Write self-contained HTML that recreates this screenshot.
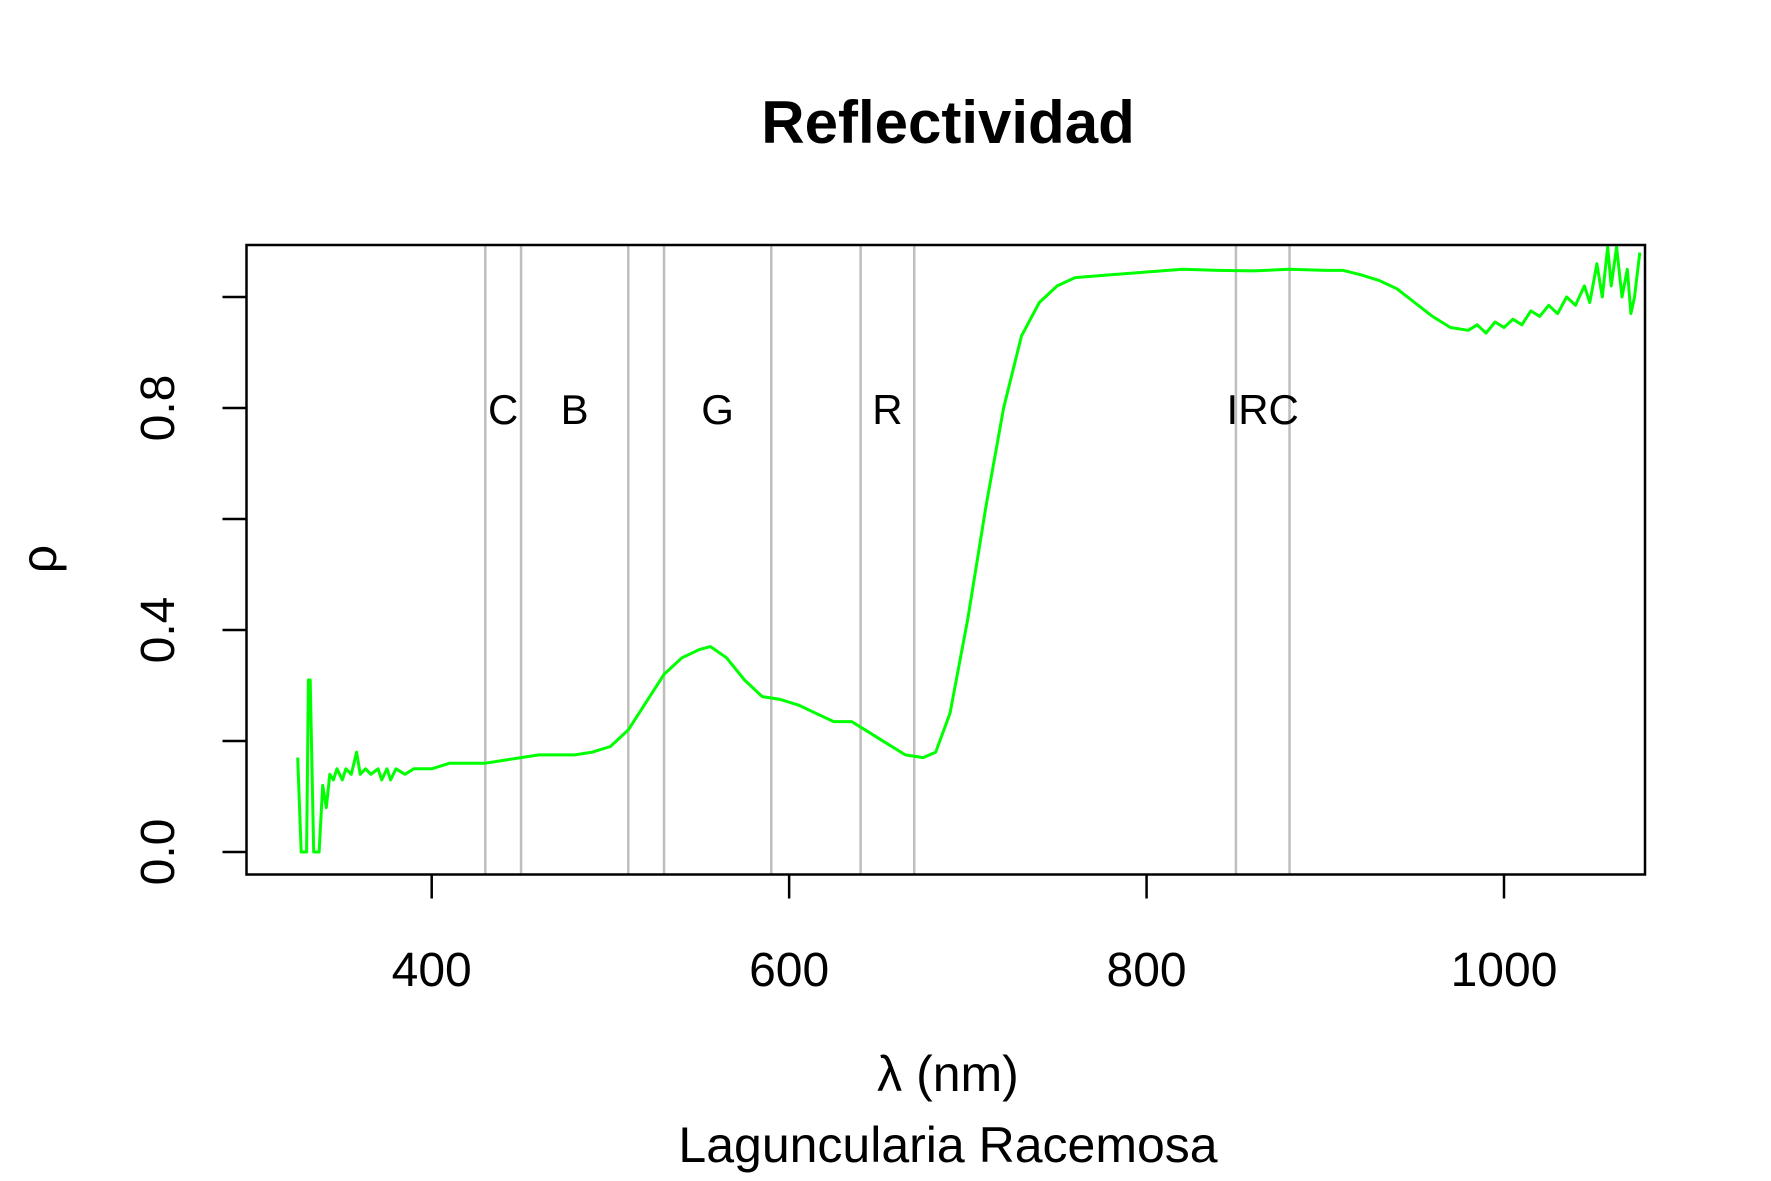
<!DOCTYPE html>
<html><head><meta charset="utf-8"><style>
html,body{margin:0;padding:0;background:#fff;}
svg{display:block;font-family:"Liberation Sans",sans-serif;}
</style></head><body>
<svg id="chart" width="1771" height="1181" viewBox="0 0 1771 1181" xmlns="http://www.w3.org/2000/svg">
<rect x="0" y="0" width="1771" height="1181" fill="#fff"/>
<text x="948" y="143" font-size="60" font-weight="bold" text-anchor="middle">Reflectividad</text>
<g id="bands"></g>
<g id="series"></g>
<rect x="246.5" y="245" width="1398.5" height="629.5" fill="none" stroke="#000" stroke-width="2.5"/>
<g id="axes"></g>
<text x="948" y="1091" font-size="50" text-anchor="middle">λ (nm)</text>
<text x="948" y="1162" font-size="50" text-anchor="middle">Laguncularia Racemosa</text>
<text transform="translate(56,559) rotate(-90)" font-size="50" text-anchor="middle">ρ</text>
</svg>
<script>
const wavelengths=[325,327,330,331,332,334,337,339,341,343,345,347,350,352,355,358,360,363,366,370,372,375,377,380,385,390,395,400,410,420,430,440,450,460,470,480,490,500,510,520,530,540,550,556,565,575,585,595,605,615,625,635,645,655,665,675,682,690,700,710,720,730,740,750,760,780,800,820,840,860,880,900,910,920,930,940,950,960,970,980,985,990,995,1000,1005,1010,1015,1020,1025,1030,1035,1040,1045,1048,1052,1055,1058,1060,1063,1066,1069,1071,1073,1076];
const reflectance=[0.17,0.0,0.0,0.31,0.31,0.0,0.0,0.12,0.08,0.14,0.13,0.15,0.13,0.15,0.14,0.18,0.14,0.15,0.14,0.15,0.13,0.15,0.13,0.15,0.14,0.15,0.15,0.15,0.16,0.16,0.16,0.165,0.17,0.175,0.175,0.175,0.18,0.19,0.22,0.27,0.32,0.35,0.365,0.37,0.35,0.31,0.28,0.275,0.265,0.25,0.235,0.235,0.215,0.195,0.175,0.17,0.18,0.25,0.42,0.62,0.80,0.93,0.99,1.02,1.035,1.04,1.045,1.05,1.048,1.047,1.05,1.048,1.048,1.04,1.03,1.015,0.99,0.965,0.945,0.94,0.95,0.935,0.955,0.945,0.96,0.95,0.975,0.965,0.985,0.97,1.0,0.985,1.02,0.99,1.06,1.0,1.09,1.02,1.09,1.0,1.05,0.97,1.0,1.08];
const bandLines=[430,450,510,530,590,640,670,850,880];
const bandLabels=["C","B","G","R","IRC"];
const bandLabelX=[440,480,560,655,865];
const xTicks=[400,600,800,1000];
const yTicks=[0,0.2,0.4,0.6,0.8,1.0];
const yTickLabels=["0.0","","0.4","","0.8",""];

const NS="http://www.w3.org/2000/svg";
const X=v=>431.7+(v-400)*(1072.3/600);
const Y=v=>852-v*(444/0.8);
const plotTop=245,plotBottom=874.5,plotLeft=246.5;
function mk(tag,attrs,parent,txt){const e=document.createElementNS(NS,tag);for(const k in attrs)e.setAttribute(k,attrs[k]);if(txt!==undefined)e.textContent=txt;parent.appendChild(e);return e;}
const bands=document.getElementById('bands');
bandLines.forEach(b=>{
  const l=mk('line',{x1:X(b),x2:X(b),y1:plotTop,y2:plotBottom,stroke:'#BEBEBE','stroke-width':2.5},bands);
  
  
});
bandLabels.forEach((t,i)=>{
  const e=mk('text',{x:X(bandLabelX[i]),y:Y(0.8)+16,'font-size':42,'text-anchor':'middle'},bands,t);
  
  
});
const series=document.getElementById('series');
const d=wavelengths.map((w,i)=>(i?'L':'M')+X(w).toFixed(1)+','+Y(reflectance[i]).toFixed(1)).join('');
const p=mk('path',{d:d,fill:'none',stroke:'#00FF00','stroke-width':3,'stroke-linejoin':'round'},series);


const axes=document.getElementById('axes');
xTicks.forEach(t=>{
  const l=mk('line',{x1:X(t),x2:X(t),y1:plotBottom,y2:plotBottom+24,stroke:'#000','stroke-width':2.5},axes);
  
  
  const e=mk('text',{x:X(t),y:986,'font-size':48,'text-anchor':'middle'},axes,String(t));
  
  
});
yTicks.forEach((t,i)=>{
  const l=mk('line',{x1:plotLeft-24,x2:plotLeft,y1:Y(t),y2:Y(t),stroke:'#000','stroke-width':2.5},axes);
  
  
  if(yTickLabels[i]){
    const e=mk('text',{transform:'translate(174,'+Y(t)+') rotate(-90)','font-size':48,'text-anchor':'middle'},axes,yTickLabels[i]);
    
    
  }
});
</script>
</body></html>
